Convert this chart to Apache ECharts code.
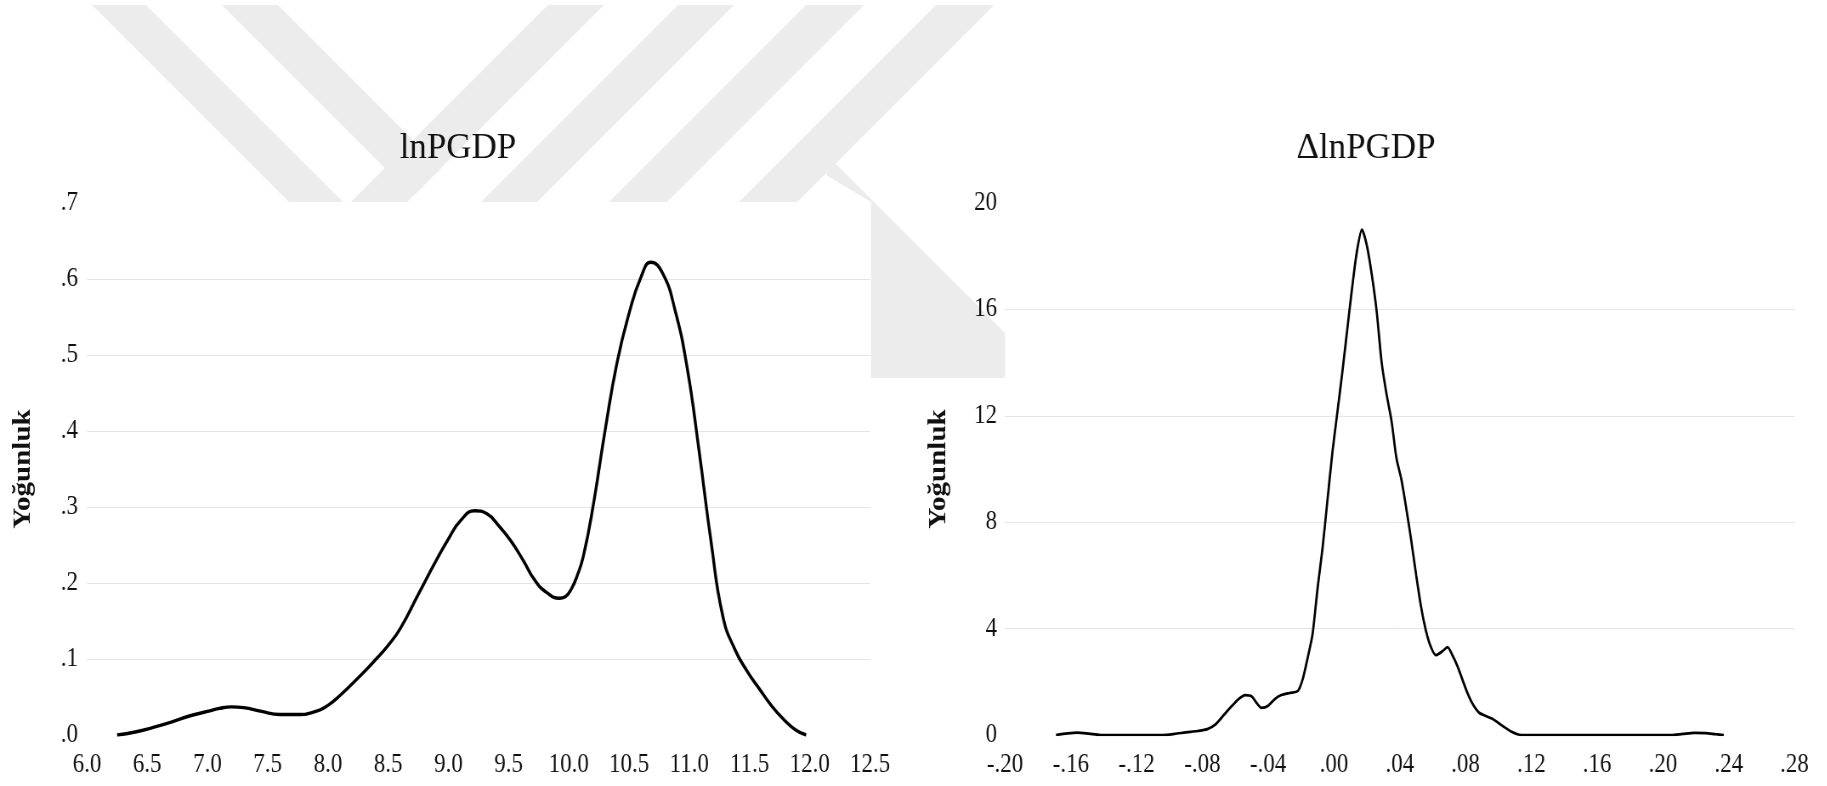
<!DOCTYPE html>
<html>
<head>
<meta charset="utf-8">
<script src="https://cdn.jsdelivr.net/npm/echarts@6/dist/echarts.min.js"></script>
<style>
  html, body { margin: 0; padding: 0; background: #ffffff; overflow: hidden; }
  #chart { position: absolute; left: 0; top: 0; height: 786px; transform-origin: 0 0; }
</style>
</head>
<body>
<div id="chart"></div>
<script>
// Kernel density of lnPGDP
const lnPGDP_x = [6.25, 6.4, 6.55, 6.7, 6.85, 7.0, 7.1, 7.2, 7.3, 7.45, 7.6, 7.75, 7.9, 8.0, 8.1, 8.25, 8.4, 8.5, 8.6, 8.75,
  8.9, 9.0, 9.1, 9.22, 9.32, 9.42, 9.52, 9.62, 9.72, 9.82, 9.92, 9.97, 10.02, 10.07, 10.12, 10.2, 10.3, 10.4, 10.5, 10.6,
  10.68, 10.78, 10.88, 10.98, 11.08, 11.18, 11.28, 11.38, 11.48, 11.58, 11.68, 11.78, 11.88, 11.97];
const lnPGDP_y = [0.0, 0.004, 0.01, 0.017, 0.025, 0.031, 0.035, 0.037, 0.036, 0.031, 0.027, 0.027, 0.031, 0.039, 0.052, 0.075, 0.1, 0.118, 0.14, 0.185,
  0.23, 0.258, 0.282, 0.295, 0.291, 0.275, 0.255, 0.23, 0.203, 0.187, 0.18, 0.182, 0.192, 0.21, 0.235, 0.3, 0.4, 0.49, 0.555, 0.603,
  0.622, 0.607, 0.56, 0.485, 0.375, 0.255, 0.155, 0.112, 0.084, 0.061, 0.039, 0.021, 0.007, 0.0];

// Kernel density of ΔlnPGDP
const dlnPGDP_x = [-0.169, -0.162, -0.156, -0.149, -0.142, -0.120, -0.104, -0.097, -0.090, -0.083, -0.077, -0.072, -0.067, -0.062, -0.058,
  -0.054, -0.050, -0.047, -0.044, -0.040, -0.036, -0.032, -0.027, -0.022, -0.019, -0.016, -0.013, -0.010, -0.007, -0.004,
  -0.001, 0.002, 0.005, 0.008, 0.011, 0.014, 0.017, 0.020, 0.023, 0.026, 0.029, 0.032, 0.035, 0.038, 0.041,
  0.044, 0.047, 0.050, 0.053, 0.056, 0.059, 0.062, 0.066, 0.069, 0.072, 0.075, 0.078, 0.081, 0.084, 0.088,
  0.092, 0.096, 0.100, 0.104, 0.108, 0.112, 0.116, 0.140, 0.180, 0.205, 0.212, 0.219, 0.226, 0.232, 0.237];
const dlnPGDP_y = [0, 0.06, 0.09, 0.05, 0, 0, 0, 0.04, 0.1, 0.15, 0.22, 0.4, 0.75, 1.1, 1.35,
  1.5, 1.45, 1.2, 1.02, 1.1, 1.35, 1.5, 1.58, 1.65, 2.1, 2.9, 3.8, 5.5, 7.0, 8.8,
  10.6, 12.1, 13.6, 15.2, 16.8, 18.2, 19.0, 18.4, 17.3, 15.9, 14.0, 12.8, 11.8, 10.4, 9.6,
  8.5, 7.3, 6.0, 4.8, 3.9, 3.3, 3.0, 3.15, 3.3, 3.0, 2.6, 2.1, 1.6, 1.2, 0.85,
  0.72, 0.62, 0.45, 0.28, 0.12, 0.02, 0, 0, 0, 0, 0.04, 0.08, 0.07, 0.03, 0];

// Axis settings
const lnTicks = { min: 6.0, max: 12.5, step: 0.5 };
const lnDensityTicks = { min: 0, max: 0.7, step: 0.1 };
const dlnTicks = { min: -0.20, max: 0.28, step: 0.04 };
const dlnDensityTicks = { min: 0, max: 20, step: 4 };
const titles = ['lnPGDP', '\u0394lnPGDP'];
const yName = 'Yoğunluk';

// Narrow serif look: the canvas is drawn wide and squeezed horizontally.
const S = 0.85;
const W = 1827 / S;
const hx = x => x / S;

const el = document.getElementById('chart');
el.style.width = W + 'px';
el.style.transform = 'scaleX(' + S + ')';

const FONT = "'Liberation Serif', 'Times New Roman', serif";
const GRID_GRAY = '#e4e4e4';
const INK = '#111111';

function pairs(xs, ys) { return xs.map((x, i) => [x, ys[i]]); }

function splitColors(t) {
  const n = Math.round((t.max - t.min) / t.step) + 1;
  const c = [];
  for (let i = 0; i < n; i++) c.push(i === 0 || i === n - 1 ? 'rgba(0,0,0,0)' : GRID_GRAY);
  return c;
}

const fmtLn = v => v.toFixed(1);
const fmtDens = v => v.toFixed(1).replace(/^0/, '');
const fmtDln = v => {
  const r = Math.round(v * 100) / 100;
  const s = Math.abs(r).toFixed(2).replace(/^0/, '');
  return (r < 0 ? '-' : '') + s;
};
const fmtInt = v => String(Math.round(v));

// Plot frames (page pixels)
const frameL = { x0: 87, x1: 870, top: 203, height: 532 };
const frameR = { x0: 1005, x1: 1794.5, top: 203, height: 532 };

// Watermark bands (light gray), kept outside the plot areas
const wm = [
  [[92, 5], [146, 5], [343, 202], [289, 202]],
  [[222, 5], [278, 5], [441, 168], [413, 196]],
  [[548, 5], [604, 5], [407, 202], [351, 202]],
  [[678, 5], [734, 5], [537, 202], [481, 202]],
  [[806, 5], [864, 5], [667, 202], [609, 202]],
  [[936, 5], [994, 5], [797, 202], [739, 202]],
  [[833, 161], [1005, 333], [1005, 378], [871, 378], [871, 202], [826, 175]]
];

const graphics = wm.map(poly => ({
  type: 'polygon',
  silent: true,
  z: -10,
  shape: { points: poly.map(p => [hx(p[0]), p[1]]) },
  style: { fill: '#ececec' }
}));

// Titles are drawn at natural width (undo the horizontal squeeze)
[[titles[0], 458], [titles[1], 1366]].forEach(([t, cx]) => {
  graphics.push({
    type: 'text', silent: true, z: 10,
    x: hx(cx), y: 149, scaleX: 1 / S,
    style: { text: t, fill: INK, fontFamily: FONT, fontSize: 35, align: 'center', verticalAlign: 'middle' }
  });
});

const labelStyle = { color: INK, fontFamily: FONT, fontSize: 27 };

function xAxis(gi, t, fmt) {
  return {
    type: 'value', gridIndex: gi, min: t.min, max: t.max, interval: t.step,
    axisLine: { show: false }, axisTick: { show: false }, splitLine: { show: false },
    axisLabel: Object.assign({ margin: 16, formatter: fmt, showMinLabel: true, showMaxLabel: true }, labelStyle)
  };
}
function yAxis(gi, t, fmt, margin, gap) {
  return {
    type: 'value', gridIndex: gi, min: t.min, max: t.max, interval: t.step,
    axisLine: { show: false }, axisTick: { show: false },
    splitLine: { show: true, lineStyle: { color: splitColors(t), width: 1 } },
    axisLabel: Object.assign({ margin: margin, formatter: fmt }, labelStyle),
    name: yName, nameLocation: 'middle', nameRotate: 90, nameGap: gap,
    nameTextStyle: { color: INK, fontFamily: FONT, fontSize: 29, fontWeight: 'bold' }
  };
}

const chart = echarts.init(el, null, { renderer: 'canvas' });
chart.setOption({
  animation: false,
  backgroundColor: '#ffffff',
  graphic: graphics,
  grid: [
    { left: hx(frameL.x0), width: hx(frameL.x1) - hx(frameL.x0), top: frameL.top, height: frameL.height },
    { left: hx(frameR.x0), width: hx(frameR.x1) - hx(frameR.x0), top: frameR.top, height: frameR.height }
  ],
  xAxis: [xAxis(0, lnTicks, fmtLn), xAxis(1, dlnTicks, fmtDln)],
  yAxis: [
    yAxis(0, lnDensityTicks, fmtDens, hx(9), hx(51)),
    yAxis(1, dlnDensityTicks, fmtInt, hx(8), hx(54))
  ],
  series: [
    { type: 'line', xAxisIndex: 0, yAxisIndex: 0, data: pairs(lnPGDP_x, lnPGDP_y),
      showSymbol: false, smooth: 0.5, lineStyle: { color: '#000', width: 3.4 } },
    { type: 'line', xAxisIndex: 1, yAxisIndex: 1, data: pairs(dlnPGDP_x, dlnPGDP_y),
      showSymbol: false, smooth: 0.25, lineStyle: { color: '#000', width: 2.7 } }
  ]
});
</script>
</body>
</html>
